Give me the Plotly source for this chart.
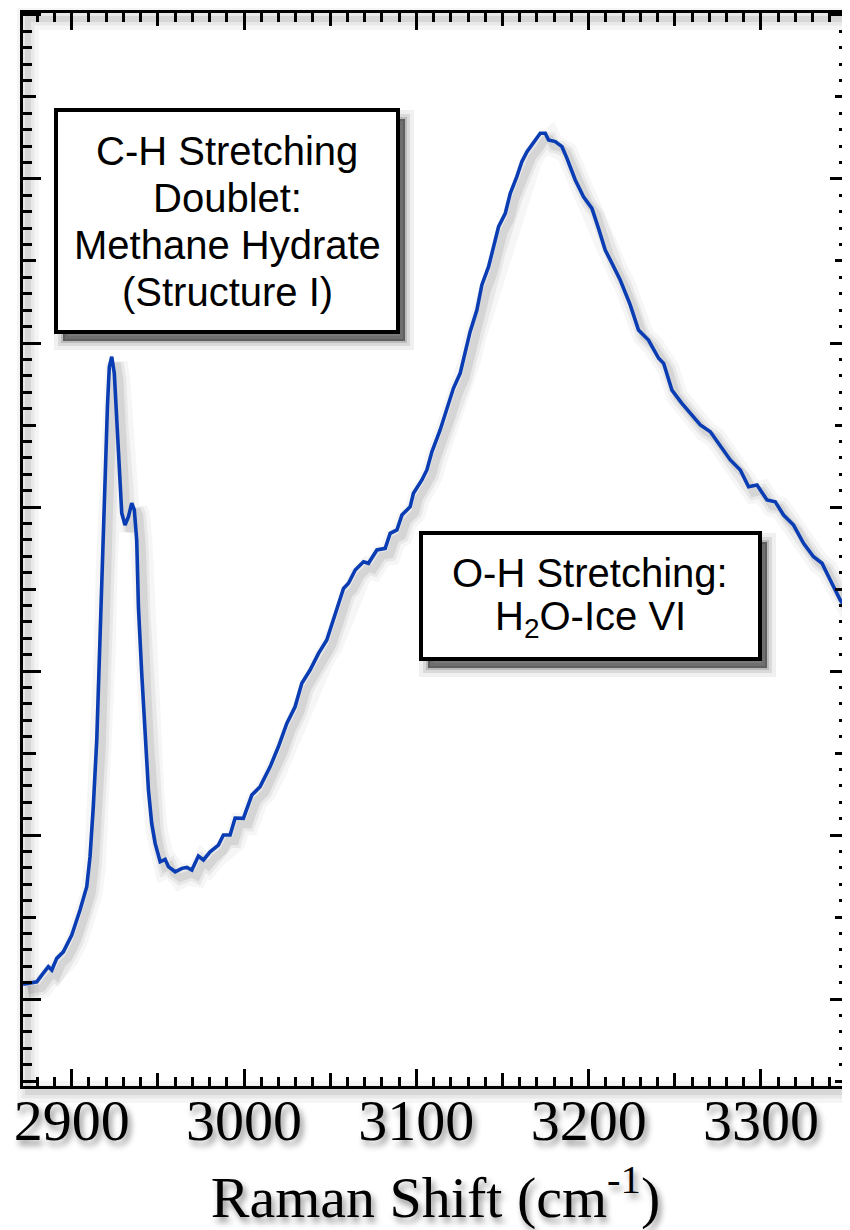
import plotly.graph_objects as go

# ---------------- data ----------------
wavenumber = [2871.7, 2874.8, 2879.7, 2882.6, 2886.4, 2888.4, 2891.3, 2895.1, 2900.0, 2904.8,
              2908.7, 2910.6, 2912.5, 2914.5, 2916.4, 2917.4, 2919.3, 2920.7, 2921.8, 2923.2,
              2924.7, 2926.1, 2927.6, 2929.0, 2930.9, 2932.9, 2934.8, 2936.3, 2937.7, 2938.7,
              2940.6, 2942.6, 2944.5, 2946.4, 2948.4, 2951.3, 2954.2, 2956.1, 2960.0, 2963.9,
              2966.8, 2969.7, 2973.5, 2976.4, 2980.3, 2985.1, 2988.0, 2991.9, 2994.8, 2999.6,
              3004.5, 3009.3, 3015.1, 3019.9, 3024.8, 3029.6, 3033.5, 3038.3, 3043.2, 3048.0,
              3051.9, 3054.8, 3057.7, 3060.6, 3064.5, 3069.3, 3072.2, 3077.1, 3081.9, 3084.8,
              3088.7, 3091.6, 3096.4, 3098.3, 3103.2, 3106.1, 3109.0, 3113.8, 3117.7, 3121.5,
              3125.4, 3128.3, 3131.2, 3135.1, 3138.0, 3141.9, 3144.8, 3147.7, 3151.6, 3154.5,
              3158.3, 3161.2, 3164.2, 3168.0, 3171.9, 3174.8, 3176.7, 3180.6, 3184.5, 3187.4,
              3192.2, 3197.0, 3201.9, 3205.7, 3209.6, 3213.5, 3218.3, 3224.1, 3228.9, 3234.7,
              3240.6, 3243.5, 3248.3, 3254.1, 3259.9, 3264.8, 3270.6, 3275.4, 3282.2, 3288.0,
              3292.8, 3297.7, 3303.5, 3308.3, 3313.1, 3318.9, 3324.7, 3330.5, 3335.4, 3340.2,
              3346.0, 3351.0]
intensity = [0.090, 0.096, 0.105, 0.146, 0.197, 0.177, 0.248, 0.288, 0.390, 0.543,
             0.685, 0.868, 1.173, 1.579, 2.189, 2.677, 3.207, 3.612, 3.855, 3.916,
             3.815, 3.512, 3.207, 2.963, 2.890, 2.941, 3.023, 2.982, 2.799, 2.392,
             1.986, 1.579, 1.274, 1.071, 0.949, 0.837, 0.852, 0.807, 0.776, 0.797,
             0.803, 0.787, 0.872, 0.848, 0.898, 0.939, 1.000, 1.000, 1.104, 1.102,
             1.244, 1.295, 1.416, 1.538, 1.681, 1.782, 1.925, 2.006, 2.108, 2.189,
             2.311, 2.413, 2.504, 2.535, 2.616, 2.666, 2.657, 2.738, 2.748, 2.840,
             2.860, 2.951, 3.002, 3.084, 3.165, 3.226, 3.337, 3.470, 3.591, 3.724,
             3.815, 3.937, 4.069, 4.201, 4.354, 4.465, 4.587, 4.709, 4.791, 4.913,
             5.014, 5.106, 5.167, 5.218, 5.279, 5.279, 5.238, 5.228, 5.197, 5.126,
             4.994, 4.892, 4.821, 4.699, 4.567, 4.486, 4.384, 4.232, 4.079, 4.018,
             3.907, 3.876, 3.713, 3.632, 3.561, 3.500, 3.459, 3.388, 3.287, 3.226,
             3.124, 3.134, 3.043, 3.032, 2.951, 2.890, 2.779, 2.697, 2.657, 2.555,
             2.433, 2.360]

x_tick_values = [2900, 3000, 3100, 3200, 3300]
x_tick_labels = ["2900", "3000", "3100", "3200", "3300"]
x_title = "Raman Shift (cm<sup>-1</sup>)"
box1_lines = ["C-H Stretching", "Doublet:", "Methane Hydrate", "(Structure I)"]
box2_lines = ["O-H Stretching:", "H<sub>2</sub>O-Ice VI"]

# ---------------- layout constants ----------------
# The page body keeps the browser's default 8 px margin, so the figure is
# sized / offset so that on screen the plot area spans x 23..848, y 13..1086.
OFF = 8
W, H = 850 - OFF, 1230 - OFF
ML, MR, MT, MB = 23 - OFF, 2, 13 - OFF, 144
PW, PH = W - ML - MR, H - MT - MB
XR = [2871.7, 3350.5]
YR = [-0.530, 6.012]
sx = PW / (XR[1] - XR[0])
sy = PH / (YR[1] - YR[0])

def px_to_paper_x(px):          # px: screen pixel of the reference
    return (px - OFF - ML) / PW

def px_to_paper_y(py):
    return (H - MB - (py - OFF)) / PH

SERIF = "Liberation Serif, Times New Roman, serif"
SANS = "Liberation Sans, Arial, Helvetica, sans-serif"
TEXT_SHADOW = "3px 5px 6px rgba(0,0,0,0.45)"
LINE_BLUE = "#0a3db3"

fig = go.Figure()

# soft drop shadow of the spectrum (same data on a pixel-shifted pair of axes)
dxs, dys = 5, 6
for w, a in [(22, 0.035), (14, 0.055), (8, 0.08)]:
    fig.add_trace(go.Scatter(x=wavenumber, y=intensity, mode="lines",
                             line=dict(color=f"rgba(0,0,0,{a})", width=w),
                             hoverinfo="skip", showlegend=False,
                             xaxis="x", yaxis="y"))

# the spectrum
fig.add_trace(go.Scatter(x=wavenumber, y=intensity, mode="lines",
                         line=dict(color=LINE_BLUE, width=3.6),
                         showlegend=False, xaxis="x2", yaxis="y2"))
# dummy trace carrying the medium-tick axes
fig.add_trace(go.Scatter(x=[None], y=[None], mode="lines", showlegend=False,
                         hoverinfo="skip", xaxis="x3", yaxis="y3"))

axis_common = dict(showgrid=False, zeroline=False, automargin=False)

fig.update_layout(
    width=W, height=H,
    margin=dict(l=ML, r=MR, t=MT, b=MB, pad=0, autoexpand=False),
    paper_bgcolor="white", plot_bgcolor="white",
    showlegend=False,
    xaxis=dict(range=[XR[0] - dxs / sx, XR[1] - dxs / sx], visible=False, **axis_common),
    yaxis=dict(range=[YR[0] + dys / sy, YR[1] + dys / sy], visible=False, **axis_common),
    xaxis2=dict(range=XR, overlaying="x", side="bottom",
                showline=True, linecolor="black", linewidth=3, mirror="ticks",
                ticks="inside", ticklen=17, tickwidth=3, tickcolor="black",
                tickvals=x_tick_values, ticktext=x_tick_labels,
                ticklabelstandoff=-19,
                tickfont=dict(family=SERIF, size=58, color="black", shadow=TEXT_SHADOW),
                minor=dict(dtick=10, tick0=2900, ticks="inside", ticklen=9,
                           tickwidth=3, tickcolor="black"),
                title=dict(text=x_title, standoff=37,
                           font=dict(family=SERIF, size=58, color="black", shadow=TEXT_SHADOW)),
                **axis_common),
    yaxis2=dict(range=YR, overlaying="y", side="left",
                showline=True, linecolor="black", linewidth=3, mirror="ticks",
                ticks="inside", ticklen=18, tickwidth=3, tickcolor="black",
                dtick=1, tick0=0, showticklabels=False,
                minor=dict(dtick=0.1, tick0=0, ticks="inside", ticklen=9,
                           tickwidth=3, tickcolor="black"),
                **axis_common),
    xaxis3=dict(range=XR, overlaying="x", side="bottom", showline=False,
                ticks="inside", ticklen=13, tickwidth=3, tickcolor="black",
                dtick=50, tick0=2900, mirror="ticks", showticklabels=False,
                **axis_common),
    yaxis3=dict(range=YR, overlaying="y", side="left", showline=False,
                ticks="inside", ticklen=13, tickwidth=3, tickcolor="black",
                dtick=0.5, tick0=0, mirror="ticks", showticklabels=False,
                **axis_common),
)

shapes = []
# frame shadow
fdx, fdy = 5 / PW, 6 / PH
for w, a in [(22, 0.04), (13, 0.05), (6, 0.07)]:
    shapes.append(dict(type="rect", xref="paper", yref="paper",
                       x0=0 + fdx, x1=1 + fdx, y0=0 - fdy, y1=1 - fdy,
                       line=dict(color=f"rgba(0,0,0,{a})", width=w),
                       fillcolor="rgba(0,0,0,0)", layer="below"))

def add_box(px0, py0, px1, py1):
    bdx, bdy = 7, 9
    for w, a in [(18, 0.06), (10, 0.09), (4, 0.14)]:
        shapes.append(dict(type="rect", xref="paper", yref="paper",
                           x0=px_to_paper_x(px0 + bdx), x1=px_to_paper_x(px1 + bdx),
                           y0=px_to_paper_y(py1 + bdy), y1=px_to_paper_y(py0 + bdy),
                           line=dict(color=f"rgba(0,0,0,{a})", width=w),
                           fillcolor="rgba(0,0,0,0.2)", layer="above"))
    shapes.append(dict(type="rect", xref="paper", yref="paper",
                       x0=px_to_paper_x(px0), x1=px_to_paper_x(px1),
                       y0=px_to_paper_y(py1), y1=px_to_paper_y(py0),
                       line=dict(color="black", width=4),
                       fillcolor="white", layer="above"))

add_box(56, 110, 398, 332)
add_box(421, 533, 760, 659)
fig.update_layout(shapes=shapes)

annotations = []
def add_lines(lines, cx, cy, pitch):
    n = len(lines)
    for i, t in enumerate(lines):
        yc = cy + (i - (n - 1) / 2) * pitch
        annotations.append(dict(text=t, xref="paper", yref="paper",
                                x=px_to_paper_x(cx), y=px_to_paper_y(yc),
                                xanchor="center", yanchor="middle", showarrow=False,
                                font=dict(family=SANS, size=40, color="black")))

add_lines(box1_lines, 227, 221, 47)
add_lines(box2_lines, 590, 596, 46)
fig.update_layout(annotations=annotations)

fig.write_html("out.html")
